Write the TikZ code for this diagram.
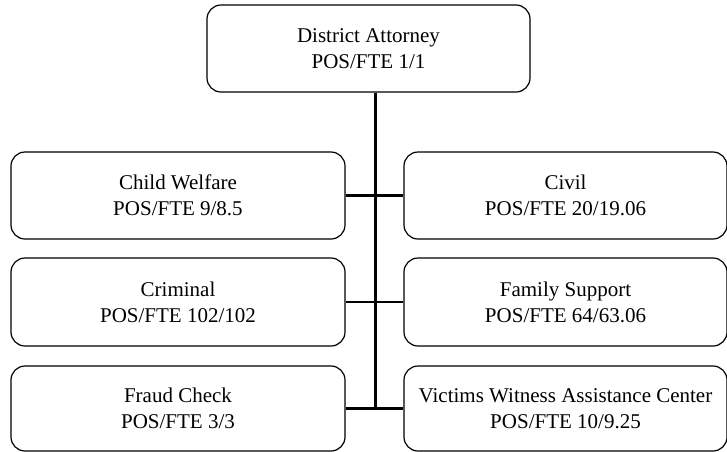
\documentclass[tikz,border=0pt]{standalone}
\usepackage{fontspec}
\setmainfont{Liberation Serif}
\begin{document}
\begin{tikzpicture}[x=1pt,y=1pt,
  unit/.style={draw, line width=1.2pt, rounded corners=14pt, align=center,
    inner sep=0pt, font={\fontsize{21}{26}\selectfont}},
  link/.style={line width=2.8pt}]
\useasboundingbox (0,0) rectangle (727,-451);
% head of office
\node[unit, minimum width=323pt, minimum height=87pt] (da) at (368.5,-48.5)
  {District Attorney\\POS/FTE 1/1};
% divisions, left column
\node[unit, minimum width=334pt, minimum height=87pt] (cw) at (178,-195.5)
  {Child Welfare\\POS/FTE 9/8.5};
\node[unit, minimum width=334pt, minimum height=88pt] (cr) at (178,-302)
  {Criminal\\POS/FTE 102/102};
\node[unit, minimum width=334pt, minimum height=85pt] (fc) at (178,-408.5)
  {Fraud Check\\POS/FTE 3/3};
% divisions, right column
\node[unit, minimum width=323pt, minimum height=87pt] (cv) at (565.5,-195.5)
  {Civil\\POS/FTE 20/19.06};
\node[unit, minimum width=323pt, minimum height=88pt] (fs) at (565.5,-302)
  {Family Support\\POS/FTE 64/63.06};
\node[unit, minimum width=323pt, minimum height=85pt] (vw) at (565.5,-408.5)
  {Victims Witness Assistance Center\\POS/FTE 10/9.25};
% trunk and branches
\coordinate (trunkend) at (375.5,-410);
\draw[link] (da.south -| trunkend) -- (trunkend);
\draw[link] (cw.east) -- (cv.west);
\draw[link] (cr.east) -- (fs.west);
\draw[link] (fc.east) -- (vw.west);
\end{tikzpicture}
\end{document}
